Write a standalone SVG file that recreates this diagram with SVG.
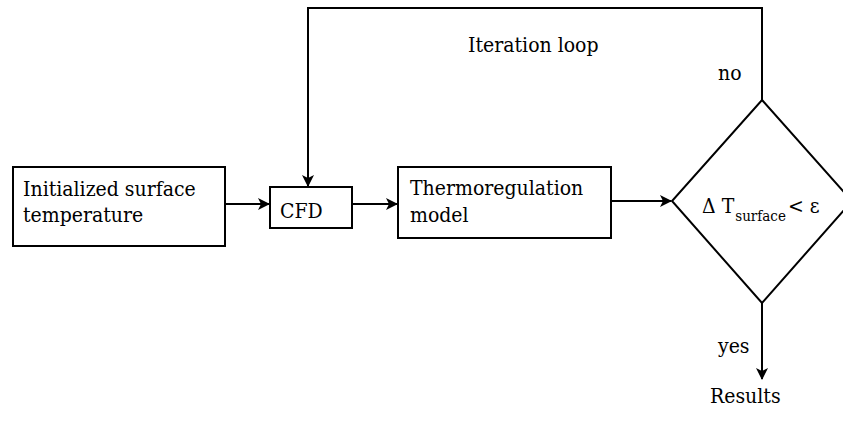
<svg xmlns="http://www.w3.org/2000/svg" width="843" height="421" viewBox="0 0 843 421">
<style>
.box{fill:#fff;stroke:#000;stroke-width:2}
.ln{fill:none;stroke:#000;stroke-width:2}
text{font-family:'DejaVu Serif Condensed','DejaVu Serif',serif;font-stretch:condensed;font-size:21px;fill:#000}
.sub{font-size:15px}
</style>
<defs>
<marker id="ah" viewBox="0 0 12 12" refX="11" refY="6" markerWidth="12" markerHeight="12" markerUnits="userSpaceOnUse" orient="auto">
<path d="M0,0 L12,6 L0,12 L3,6 Z" fill="#000"/>
</marker>
</defs>
<rect width="843" height="421" fill="#fff"/>
<g id="connectors">
<line class="ln" x1="225" y1="204" x2="269" y2="204" marker-end="url(#ah)"/>
<line class="ln" x1="352" y1="204" x2="397" y2="204" marker-end="url(#ah)"/>
<line class="ln" x1="611" y1="201" x2="671" y2="201" marker-end="url(#ah)"/>
<polyline class="ln" points="762,100 762,8 308,8 308,186" marker-end="url(#ah)"/>
<line class="ln" x1="762" y1="303" x2="762" y2="379" marker-end="url(#ah)"/>
<text x="468" y="52">Iteration loop</text>
<text x="718" y="80">no</text>
<text x="718" y="353">yes</text>
</g>
<g id="init">
<rect class="box" x="13" y="167" width="212" height="79"/>
<text x="23" y="196">Initialized surface</text>
<text x="23" y="222">temperature</text>
</g>
<g id="cfd">
<rect class="box" x="270" y="187" width="82" height="41"/>
<text x="280" y="218">CFD</text>
</g>
<g id="thermo">
<rect class="box" x="398" y="167" width="213" height="71"/>
<text x="410" y="195">Thermoregulation</text>
<text x="410" y="222">model</text>
</g>
<g id="decision">
<polygon class="box" points="762,100 852,201 762,303 672,201"/>
<text x="702" y="213">Δ T<tspan class="sub" dy="8" dx="1">surface</tspan><tspan dy="-8" dx="2">&lt;</tspan><tspan dx="6">ε</tspan></text>
</g>
<g id="results">
<text x="710" y="403">Results</text>
</g>
</svg>
